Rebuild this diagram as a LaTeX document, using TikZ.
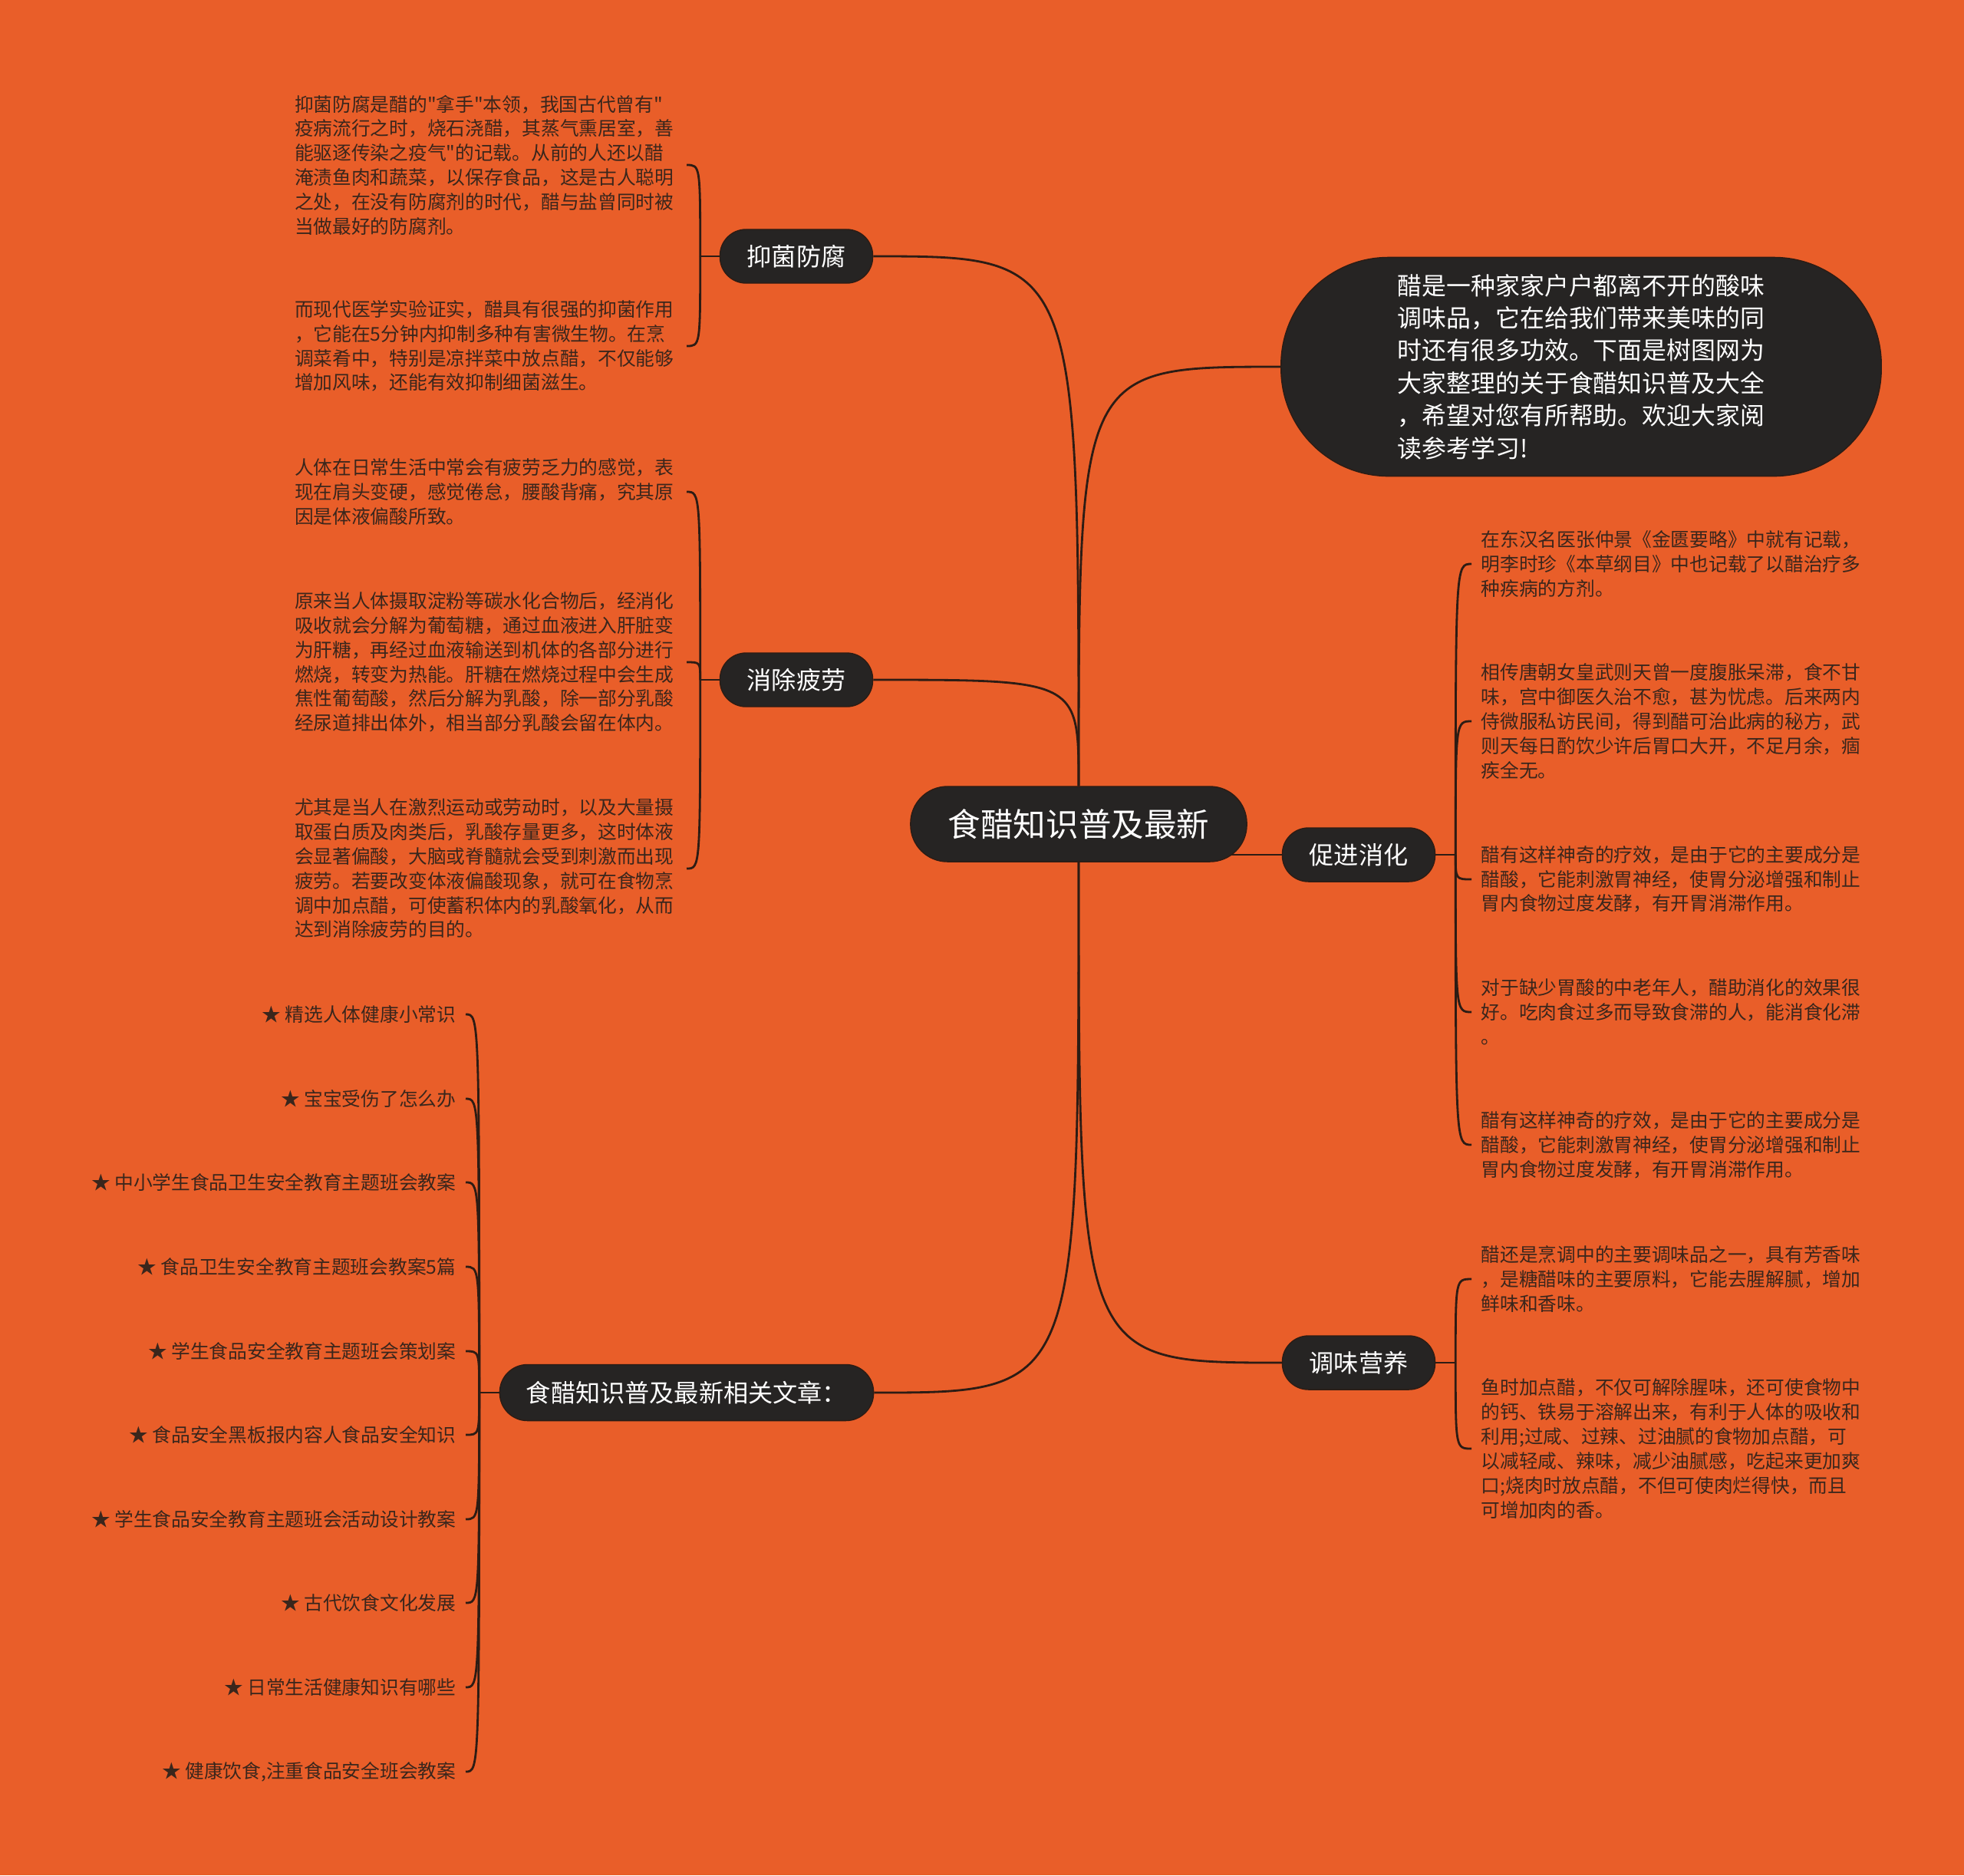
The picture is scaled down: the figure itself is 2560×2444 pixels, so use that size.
\documentclass[tikz,border=0pt]{standalone}
\usepackage{fontspec}
\setmainfont{Noto Sans CJK SC}[Ligatures=TeXOff]
\usepackage{tikz}
\usetikzlibrary{calc}
\pgfdeclarelayer{background}
\pgfsetlayers{background,main}
\definecolor{bgorange}{RGB}{233,94,41}
\definecolor{nodedark}{RGB}{38,36,35}
\definecolor{linebrown}{RGB}{45,28,20}
\definecolor{notetext}{RGB}{58,38,28}

\begin{document}
\begin{tikzpicture}[
		x=0.01cm, y=-0.01cm,
		rootbox/.style={
			rectangle, draw=linebrown, fill=nodedark, text=white,
			rounded corners=0.48cm, minimum width=4.38cm, minimum height=0.98cm,
			inner sep=0pt, font=\fontsize{12.1pt}{14pt}\selectfont
		},
		topicbox/.style={
			rectangle, draw=linebrown, fill=nodedark, text=white,
			rounded corners=0.34cm, minimum width=1.99cm, minimum height=0.70cm,
			inner sep=0pt, font=\fontsize{9.15pt}{11pt}\selectfont
		},
		widebox/.style={
			topicbox, minimum width=4.87cm, minimum height=0.73cm, rounded corners=0.36cm
		},
		introbox/.style={
			rectangle, draw=linebrown, fill=nodedark, text=white,
			rounded corners=1.4cm, minimum width=7.82cm, minimum height=2.85cm,
			align=left, inner sep=0pt, font=\fontsize{9.07pt}{12.06pt}\selectfont
		},
		note/.style={
			align=left, text=notetext, inner xsep=0.12cm, inner ysep=0pt,
			font=\fontsize{7.03pt}{9.05pt}\selectfont
		},
		blocknote/.style={
			note, text width=4.98cm
		},
		link/.style={
			note, anchor=east
		},
		branch/.style={draw=linebrown, line width=0.8pt},
		]
		
		\useasboundingbox (0,0) rectangle (2560,2444);
		
		\node[rootbox] (center) at (1406,1074) {食醋知识普及最新};
		
		%left topics
		\node[topicbox] (yijun) at (1038,334) {抑菌防腐};
		\node[topicbox] (xiaochu) at (1038,886) {消除疲劳};
		\node[widebox] (xiangguan) at (895,1815) {食醋知识普及最新相关文章：};
		
		%right topics
		\node[introbox] (intro) at (2061,478) {醋是一种家家户户都离不开的酸味\\调味品，它在给我们带来美味的同\\时还有很多功效。下面是树图网为\\大家整理的关于食醋知识普及大全\\，希望对您有所帮助。欢迎大家阅\\读参考学习!};
		\node[topicbox] (cujin) at (1771,1114) {促进消化};
		\node[topicbox] (tiaowei) at (1771,1776) {调味营养};
		
		%notes of yijun
		\node[blocknote, anchor=east] (yijunA) at (895,215) {抑菌防腐是醋的"拿手"本领，我国古代曾有"\\疫病流行之时，烧石浇醋，其蒸气熏居室，善\\能驱逐传染之疫气"的记载。从前的人还以醋\\淹渍鱼肉和蔬菜，以保存食品，这是古人聪明\\之处，在没有防腐剂的时代，醋与盐曾同时被\\当做最好的防腐剂。};
		\node[blocknote, anchor=east] (yijunB) at (895,451) {而现代医学实验证实，醋具有很强的抑菌作用\\，它能在5分钟内抑制多种有害微生物。在烹\\调菜肴中，特别是凉拌菜中放点醋，不仅能够\\增加风味，还能有效抑制细菌滋生。};
		
		%notes of xiaochu
		\node[blocknote, anchor=east] (xiaochuA) at (895,641) {人体在日常生活中常会有疲劳乏力的感觉，表\\现在肩头变硬，感觉倦怠，腰酸背痛，究其原\\因是体液偏酸所致。};
		\node[blocknote, anchor=east] (xiaochuB) at (895,863) {原来当人体摄取淀粉等碳水化合物后，经消化\\吸收就会分解为葡萄糖，通过血液进入肝脏变\\为肝糖，再经过血液输送到机体的各部分进行\\燃烧，转变为热能。肝糖在燃烧过程中会生成\\焦性葡萄酸，然后分解为乳酸，除一部分乳酸\\经尿道排出体外，相当部分乳酸会留在体内。};
		\node[blocknote, anchor=east] (xiaochuC) at (895,1132) {尤其是当人在激烈运动或劳动时，以及大量摄\\取蛋白质及肉类后，乳酸存量更多，这时体液\\会显著偏酸，大脑或脊髓就会受到刺激而出现\\疲劳。若要改变体液偏酸现象，就可在食物烹\\调中加点醋，可使蓄积体内的乳酸氧化，从而\\达到消除疲劳的目的。};
		
		%notes of cujin
		\node[note, anchor=west] (cujinA) at (1918,735) {在东汉名医张仲景《金匮要略》中就有记载，\\明李时珍《本草纲目》中也记载了以醋治疗多\\种疾病的方剂。};
		\node[note, anchor=west] (cujinB) at (1918,940) {相传唐朝女皇武则天曾一度腹胀呆滞，食不甘\\味，宫中御医久治不愈，甚为忧虑。后来两内\\侍微服私访民间，得到醋可治此病的秘方，武\\则天每日酌饮少许后胃口大开，不足月余，痼\\疾全无。};
		\node[note, anchor=west] (cujinC) at (1918,1146) {醋有这样神奇的疗效，是由于它的主要成分是\\醋酸，它能刺激胃神经，使胃分泌增强和制止\\胃内食物过度发酵，有开胃消滞作用。};
		\node[note, anchor=west] (cujinD) at (1918,1319) {对于缺少胃酸的中老年人，醋助消化的效果很\\好。吃肉食过多而导致食滞的人，能消食化滞\\。};
		\node[note, anchor=west] (cujinE) at (1918,1492) {醋有这样神奇的疗效，是由于它的主要成分是\\醋酸，它能刺激胃神经，使胃分泌增强和制止\\胃内食物过度发酵，有开胃消滞作用。};
		
		%notes of tiaowei
		\node[note, anchor=west] (tiaoweiA) at (1918,1667) {醋还是烹调中的主要调味品之一，具有芳香味\\，是糖醋味的主要原料，它能去腥解腻，增加\\鲜味和香味。};
		\node[note, anchor=west] (tiaoweiB) at (1918,1888) {鱼时加点醋，不仅可解除腥味，还可使食物中\\的钙、铁易于溶解出来，有利于人体的吸收和\\利用;过咸、过辣、过油腻的食物加点醋，可\\以减轻咸、辣味，减少油腻感，吃起来更加爽\\口;烧肉时放点醋，不但可使肉烂得快，而且\\可增加肉的香。};
		
		%links
		\node[link] (linkA) at (607,1322) {★ 精选人体健康小常识};
		\node[link] (linkB) at (607,1432) {★ 宝宝受伤了怎么办};
		\node[link] (linkC) at (607,1541) {★ 中小学生食品卫生安全教育主题班会教案};
		\node[link] (linkD) at (607,1651) {★ 食品卫生安全教育主题班会教案5篇};
		\node[link] (linkE) at (607,1761) {★ 学生食品安全教育主题班会策划案};
		\node[link] (linkF) at (607,1870) {★ 食品安全黑板报内容人食品安全知识};
		\node[link] (linkG) at (607,1980) {★ 学生食品安全教育主题班会活动设计教案};
		\node[link] (linkH) at (607,2089) {★ 古代饮食文化发展};
		\node[link] (linkI) at (607,2199) {★ 日常生活健康知识有哪些};
		\node[link] (linkJ) at (607,2309) {★ 健康饮食,注重食品安全班会教案};
		
		\coordinate (yijunJ) at ([xshift=-0.25cm]yijun.west);
		\coordinate (xiaochuJ) at ([xshift=-0.25cm]xiaochu.west);
		\coordinate (xiangguanJ) at ([xshift=-0.26cm]xiangguan.west);
		\coordinate (cujinJ) at ([xshift=0.26cm]cujin.east);
		\coordinate (tiaoweiJ) at ([xshift=0.26cm]tiaowei.east);
		
		\begin{pgfonlayer}{background}
			\fill[bgorange] (0,0) rectangle (2560,2444);
			
			%center to topics
			\draw[branch] (center.north) .. controls (center.north |- yijun.east) .. (yijun.east);
			\draw[branch] (center.north) .. controls (center.north |- xiaochu.east) .. (xiaochu.east);
			\draw[branch] (center.north) .. controls (center.north |- intro.west) .. (intro.west);
			\draw[branch] (center) -- (center |- cujin.west) -- (cujin.west);
			\draw[branch] (center.south) .. controls (center.south |- xiangguan.east) .. (xiangguan.east);
			\draw[branch] (center.south) .. controls (center.south |- tiaowei.west) .. (tiaowei.west);
			
			%brackets
			\draw[branch] (yijun.west) -- (yijunJ);
			\foreach \n in {yijunA, yijunB}
				\draw[branch] (yijunJ) .. controls (yijunJ |- \n.east) and (yijunJ |- \n.east) .. (\n.east);
			\draw[branch] (xiaochu.west) -- (xiaochuJ);
			\foreach \n in {xiaochuA, xiaochuB, xiaochuC}
				\draw[branch] (xiaochuJ) .. controls (xiaochuJ |- \n.east) and (xiaochuJ |- \n.east) .. (\n.east);
			\draw[branch] (cujin.east) -- (cujinJ);
			\foreach \n in {cujinA, cujinB, cujinC, cujinD, cujinE}
				\draw[branch] (cujinJ) .. controls (cujinJ |- \n.west) and (cujinJ |- \n.west) .. (\n.west);
			\draw[branch] (tiaowei.east) -- (tiaoweiJ);
			\foreach \n in {tiaoweiA, tiaoweiB}
				\draw[branch] (tiaoweiJ) .. controls (tiaoweiJ |- \n.west) and (tiaoweiJ |- \n.west) .. (\n.west);
			\draw[branch] (xiangguan.west) -- (xiangguanJ);
			\foreach \n in {linkA, linkB, linkC, linkD, linkE, linkF, linkG, linkH, linkI, linkJ}
				\draw[branch] (xiangguanJ) .. controls (xiangguanJ |- \n.east) and (xiangguanJ |- \n.east) .. (\n.east);
		\end{pgfonlayer}
	\end{tikzpicture}
\end{document}
